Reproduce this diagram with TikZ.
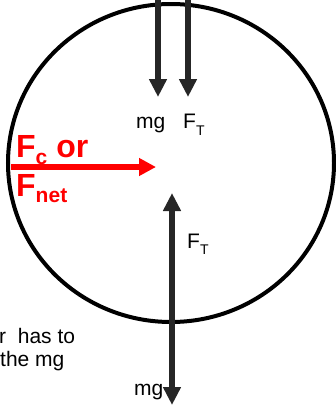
\documentclass[tikz,border=0pt]{standalone}
\usepackage{fontspec}
\setmainfont{Liberation Sans}
\usetikzlibrary{arrows.meta, positioning}
\definecolor{forcegray}{RGB}{38, 38, 38}
\definecolor{netred}{RGB}{255, 0, 0}

\begin{document}
\begin{tikzpicture}[x=1pt, y=-1pt,
  forcearrow/.style={draw=forcegray, line width=6pt, -{Triangle[length=18pt, width=17pt]}},
  netarrow/.style={draw=netred, line width=5.5pt, -{Triangle[length=17pt, width=17pt]}},
  lbl/.style={font=\fontsize{21}{21}\selectfont, inner sep=0pt, anchor=base west},
  netlbl/.style={font=\fontsize{32}{32}\selectfont\bfseries, text=netred, inner sep=0pt, anchor=base west}]
  \useasboundingbox (0,0) rectangle (335,407);

  % ---- Loop ----
  \draw[line width=4pt] (171,163) ellipse [x radius=163, y radius=159];

  % ---- Top of the loop ----
  \coordinate (mgtail) at (158,-5);
  \coordinate (mgtip) at (158,97);
  \coordinate (fttail) at (188,-5);
  \coordinate (fttip) at (188,97);
  \draw[forcearrow] (mgtail) -- (mgtip);
  \draw[forcearrow] (fttail) -- (fttip);
  \node[lbl] (mgtop) at (136,128) {mg};
  \node[lbl] (fttop) at (183,128) {F\raisebox{-7pt}{\fontsize{14}{14}\selectfont T}};

  % ---- Net force ----
  \coordinate (netstart) at (11,167);
  \coordinate (nettip) at (156,167);
  \draw[netarrow] (netstart) -- (nettip);
  \node[netlbl] (fclabel) at (16,157) {F\raisebox{-7pt}{\fontsize{21}{21}\selectfont c} or};
  \node[netlbl] (fnetlabel) at (16,196) {F\raisebox{-6pt}{\fontsize{21}{21}\selectfont net}};

  % ---- Bottom of the loop ----
  \coordinate (ftbot) at (172,193);
  \coordinate (mgbot) at (172,405);
  \draw[forcearrow, {Triangle[length=18pt, width=17pt]}-{Triangle[length=18pt, width=17pt]}] (ftbot) -- (mgbot);
  \node[lbl] (ftlow) at (187,248) {F\raisebox{-6pt}{\fontsize{14}{14}\selectfont T}};
  \node[lbl] (mglow) at (134,395) {mg};

  % ---- Text ----
  \node[lbl] (textone) at (-1,343) {r\ \ has to};
  \node[lbl] (texttwo) at (0,366) {the mg};
\end{tikzpicture}
\end{document}
